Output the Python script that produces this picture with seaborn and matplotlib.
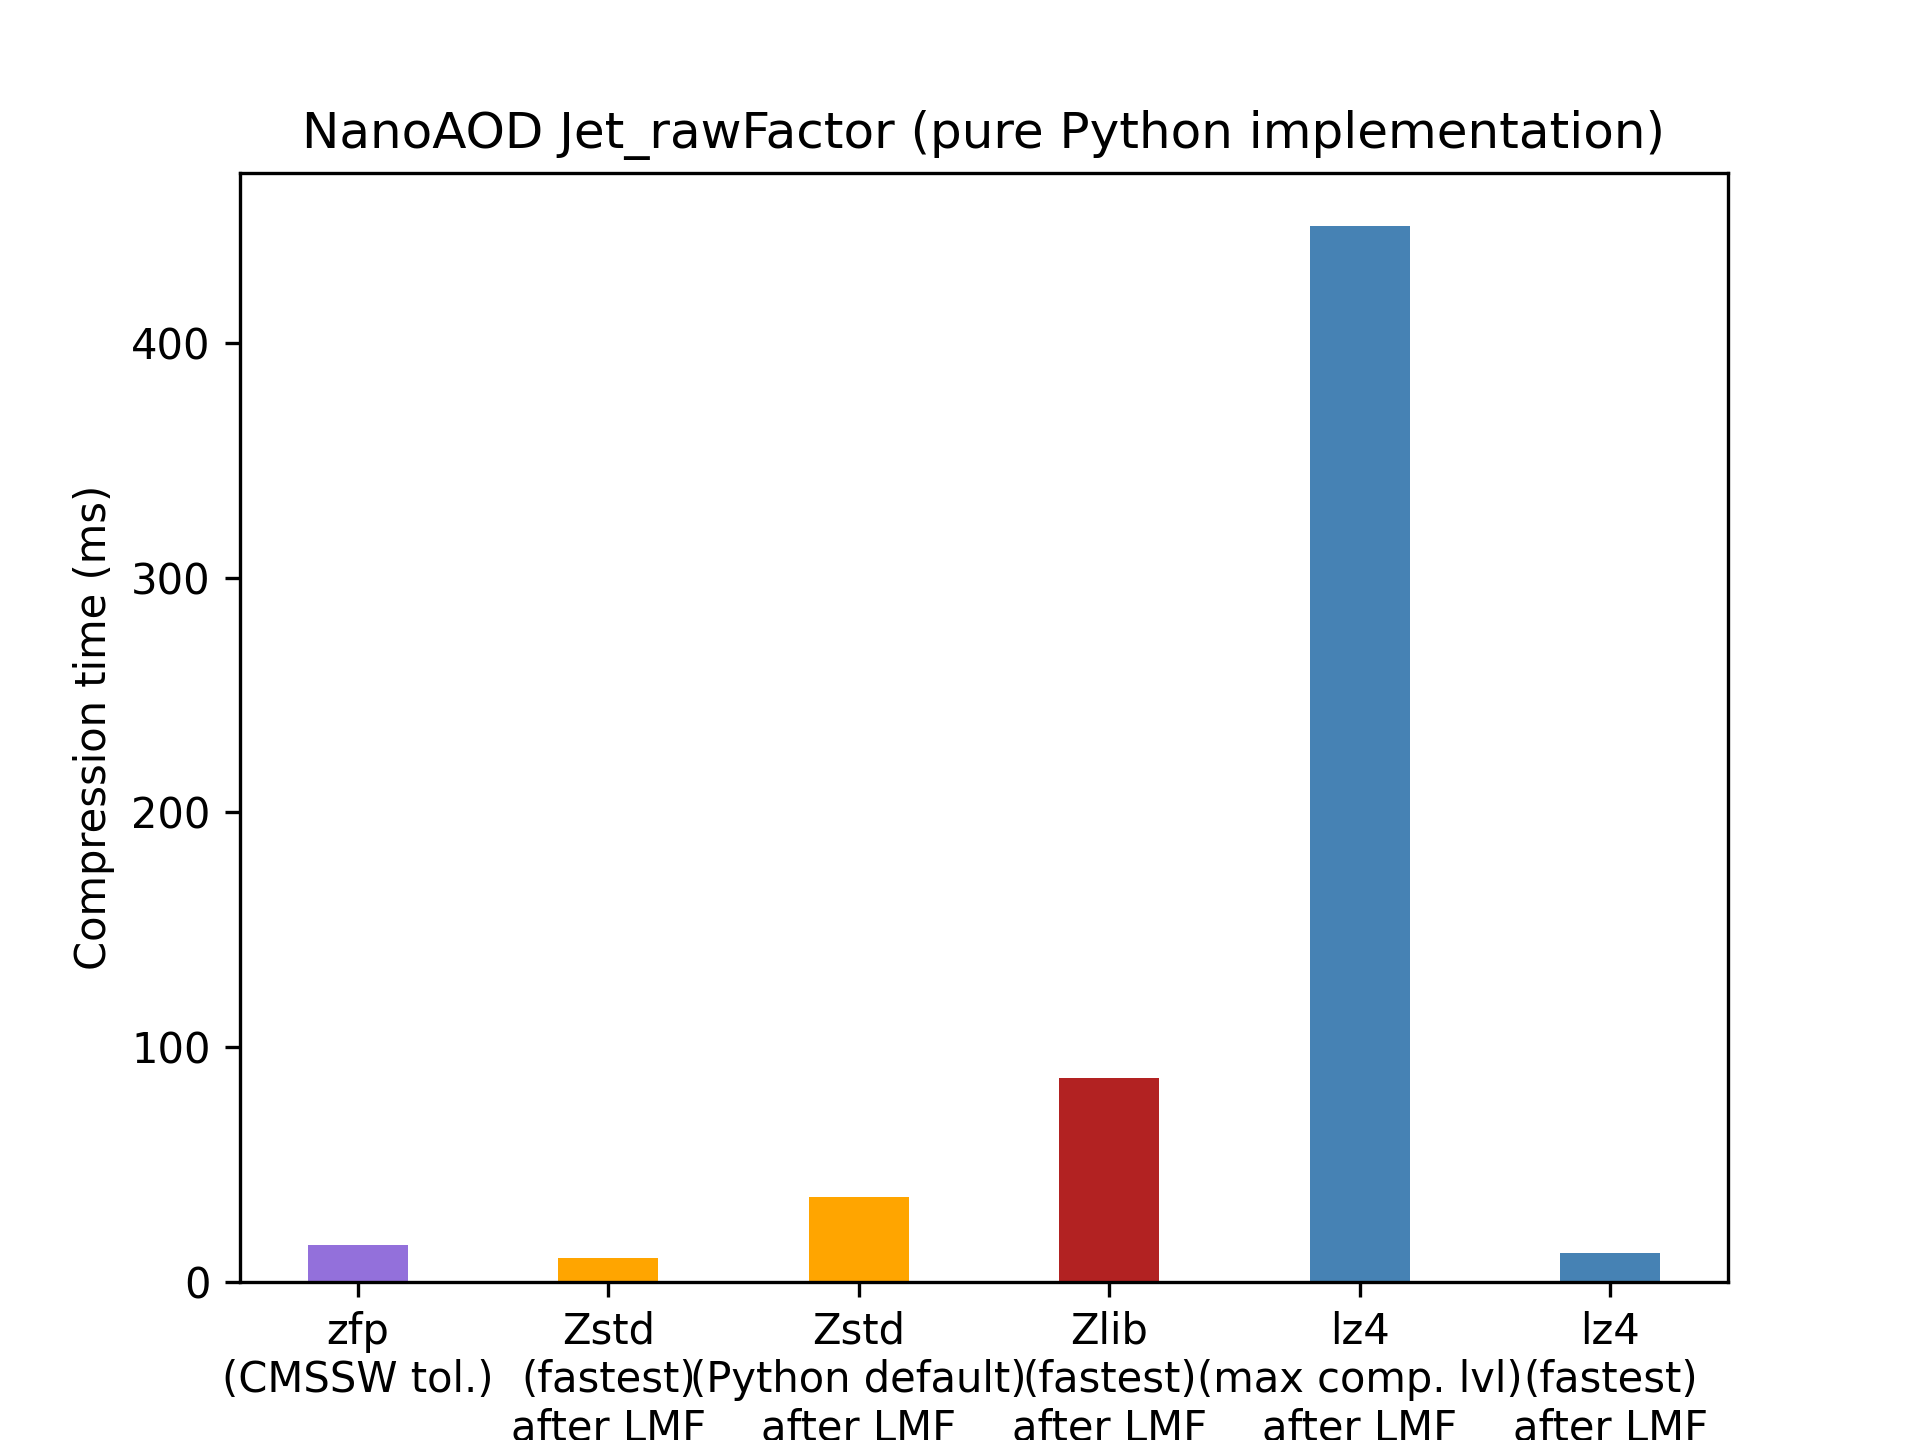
import pandas as pd
import matplotlib
matplotlib.use("Agg")
import matplotlib.pyplot as plt
import seaborn as sns

# -----------------------------
# DATA
# -----------------------------
labels = [
    "zfp\n(CMSSW tol.)",
    "Zstd\n(fastest)\nafter LMF",
    "Zstd\n(Python default)\nafter LMF",
    "Zlib\n(fastest)\nafter LMF",
    "lz4\n(max comp. lvl)\nafter LMF",
    "lz4\n(fastest)\nafter LMF",
]
times_ms = [15.6, 10.1, 36.1, 86.9, 450.2, 12.2]
colors = ["mediumpurple", "orange", "orange", "firebrick", "steelblue", "steelblue"]

df = pd.DataFrame({"label": labels, "time": times_ms})

# -----------------------------
# PLOT
# -----------------------------
fig, ax = plt.subplots(figsize=(6.4, 4.8))
sns.barplot(
    data=df, x="label", y="time", hue="label",
    palette=colors, width=0.4, saturation=1,
    legend=False, ax=ax,
)

n = len(labels)
span = (n - 1) + 0.4
ax.set_xlim(-0.2 - 0.05 * span, n - 1 + 0.2 + 0.05 * span)
ax.set_ylim(0, max(times_ms) * 1.05)
ax.set_xlabel("")
ax.set_ylabel("Compression time (ms)")
ax.set_title("NanoAOD Jet_rawFactor (pure Python implementation)", fontsize=12)
for s in ax.spines.values():
    s.set_visible(True)
    s.set_color("black")

fig.savefig("out.png", dpi=300)
plt.close()
